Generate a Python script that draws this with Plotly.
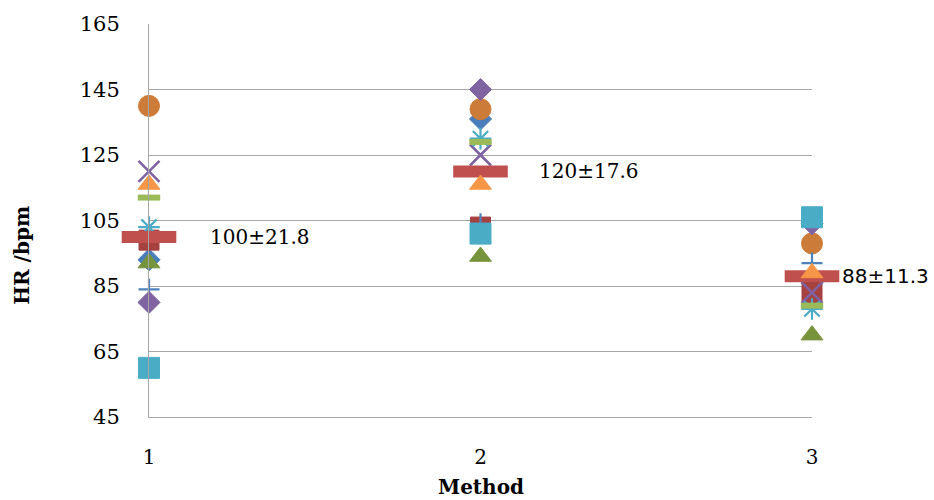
import plotly.graph_objects as go

# ---- data ----
methods = [1, 2, 3]
blue_diamond = [93, 136, 86]
red_square = [99, 103, 83]
green_triangle = [92, 94, 70]
purple_x = [120, 125, 83]
teal_asterisk = [103, 130, 78]
orange_circle = [140, 139, 98]
blue_plus = [84, 104, 92]
green_dash = [112, 129, 79]
mean_hr = [100, 120, 88]
orange_triangle = [116, 116, 89]
purple_diamond = [80, 145, 104]
teal_square = [60, 101, 106]
sd_hr = [21.8, 17.6, 11.3]

y_ticks = [45, 65, 85, 105, 125, 145, 165]
x_ticks = [1, 2, 3]

# ---- styles (draw order) ----
series = [
    (blue_diamond, dict(symbol="diamond", size=17, color="#4A7EBB", line=dict(width=1, color="#4A7EBB"))),
    (red_square, dict(symbol="square", size=20, color="#A5413E", line=dict(width=1, color="#A5413E"))),
    (green_triangle, dict(symbol="triangle-up", size=19, color="#77933C", line=dict(width=1, color="#77933C"))),
    (purple_x, dict(symbol="x-thin-open", size=21, color="#7F62A1", line=dict(width=2.5, color="#7F62A1"))),
    (teal_asterisk, dict(symbol="asterisk-open", size=18, color="#4BACC6", line=dict(width=2.2, color="#4BACC6"))),
    (orange_circle, dict(symbol="circle", size=21, color="#CD7B38", line=dict(width=1, color="#CD7B38"))),
    (blue_plus, dict(symbol="cross-thin-open", size=15, color="#4F81BD", line=dict(width=2.2, color="#4F81BD"))),
    (green_dash, dict(symbol="line-ew-open", size=16, color="#9BBB59", line=dict(width=6, color="#9BBB59"))),
    (mean_hr, dict(symbol="line-ew-open", size=39, color="#C0504D", line=dict(width=12, color="#C0504D"))),
    (orange_triangle, dict(symbol="triangle-up", size=19, color="#F79646", line=dict(width=1, color="#F79646"))),
    (purple_diamond, dict(symbol="diamond", size=17, color="#8064A2", line=dict(width=1, color="#8064A2"))),
    (teal_square, dict(symbol="square", size=21, color="#4BACC6", line=dict(width=1, color="#4BACC6"))),
]

fig = go.Figure()
for vals, mk in series:
    fig.add_trace(go.Scatter(x=methods, y=vals, mode="markers", marker=mk,
                             cliponaxis=False, showlegend=False, hoverinfo="skip"))

serif = "DejaVu Serif"
label_shift = [59, 56, 28]
label_font = [serif, serif, "DejaVu Sans"]
for m, mu, sd, sh, fn in zip(methods, mean_hr, sd_hr, label_shift, label_font):
    fig.add_annotation(x=m, y=mu, xref="x", yref="y", text=f"{mu}±{sd}",
                       showarrow=False, xanchor="left", yanchor="middle", xshift=sh,
                       font=dict(family=fn, size=20, color="#000000"))

fig.add_annotation(x=0.5, y=0, xref="paper", yref="paper", text="<b>Method</b>",
                   showarrow=False, xanchor="center", yanchor="middle", yshift=-70,
                   font=dict(family=serif, size=20, color="#000000"))
fig.add_annotation(x=0, y=0.41, xref="paper", yref="paper", text="<b>HR /bpm</b>",
                   showarrow=False, xanchor="center", yanchor="middle", xshift=-127,
                   textangle=-90, font=dict(family=serif, size=20, color="#000000"))

fig.update_layout(
    width=934, height=500,
    margin=dict(l=149, r=122, t=22, b=83),
    paper_bgcolor="white", plot_bgcolor="white",
    xaxis=dict(range=[1, 3], tickvals=x_ticks, showgrid=False, zeroline=False,
               showline=True, linecolor="#A6A6A6", linewidth=1,
               tickfont=dict(family=serif, size=20, color="#000000"),
               ticklabelstandoff=22),
    yaxis=dict(range=[45, 165], tickvals=y_ticks, showgrid=True, gridcolor="#A6A6A6",
               gridwidth=1, zeroline=False, showline=True, linecolor="#A6A6A6", linewidth=1,
               tickfont=dict(family=serif, size=21, color="#000000"),
               ticklabelstandoff=24),
)

fig.write_html("out.html", config={"displayModeBar": False},
               post_script="document.body.style.margin='0';document.body.style.overflow='hidden';")
